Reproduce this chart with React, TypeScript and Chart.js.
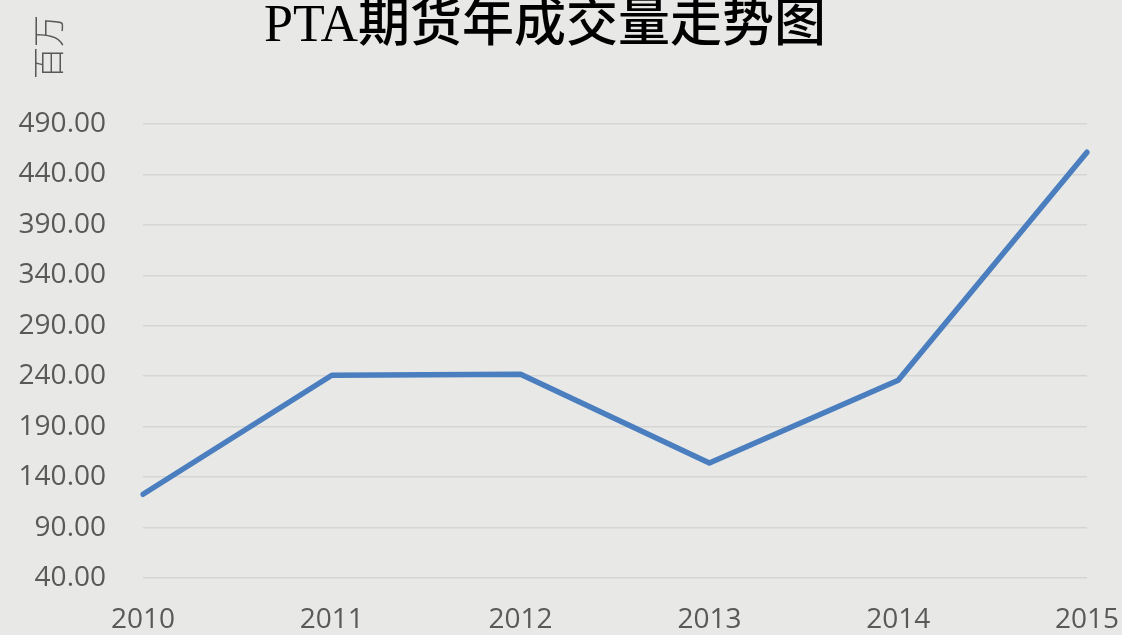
import React, { useEffect, useRef } from "react";
import { Chart, registerables } from "chart.js";

Chart.register(...registerables);

const years = ["2010", "2011", "2012", "2013", "2014", "2015"];
const volumes = [123, 241, 242, 154, 236, 462];
const yMin = 40;
const yMax = 490;
const yStep = 50;
const titleText = "PTA期货年成交量走势图";
const unitText = "百万";

const BG = "#e8e8e6";
const TEXT = "#595959";

const textPlugin = {
  id: "textPlugin",
  beforeDraw(chart: any) {
    const ctx = chart.ctx;
    ctx.save();
    ctx.fillStyle = BG;
    ctx.fillRect(0, 0, chart.width, chart.height);
    ctx.restore();
  },
  afterDraw(chart: any) {
    const ctx = chart.ctx;
    ctx.save();
    ctx.fillStyle = "#000000";
    ctx.font = "500 52px 'Liberation Serif', 'Noto Sans CJK SC'";
    ctx.textAlign = "center";
    ctx.textBaseline = "middle";
    ctx.fillText(titleText, 545, 27);
    ctx.restore();

    ctx.save();
    ctx.translate(48, 47);
    ctx.rotate(-Math.PI / 2);
    ctx.fillStyle = TEXT;
    ctx.font = "300 32px 'Noto Sans CJK SC'";
    ctx.textAlign = "center";
    ctx.textBaseline = "middle";
    ctx.fillText(unitText, 0, 0);
    ctx.restore();
  },
};

export default function App() {
  const ref = useRef<HTMLCanvasElement | null>(null);
  useEffect(() => {
    document.body.style.margin = "0";
    document.body.style.background = BG;
    const chart = new Chart(ref.current as HTMLCanvasElement, {
      type: "line",
      data: {
        labels: years,
        datasets: [
          {
            data: volumes,
            borderColor: "#4a7ebf",
            borderWidth: 5.5,
            borderCapStyle: "round",
            borderJoinStyle: "round",
            pointRadius: 0,
            tension: 0,
            fill: false,
          },
        ],
      },
      options: {
        responsive: false,
        animation: false,
        layout: { padding: { left: 0, top: 124, right: 35, bottom: 0 } },
        plugins: {
          legend: { display: false },
          title: { display: false },
          tooltip: { enabled: false },
        },
        scales: {
          x: {
            offset: false,
            grid: { display: false, drawTicks: false },
            border: { display: false },
            ticks: {
              color: TEXT,
              font: { family: "'Open Sans'", size: 28 },
              padding: 25,
              maxRotation: 0,
              autoSkip: false,
            },
            afterFit(scale: any) {
              scale.height = 57;
              scale.paddingLeft = 0;
              scale.paddingRight = 0;
            },
          },
          y: {
            min: yMin,
            max: yMax,
            grid: { color: "#d5d5d3", lineWidth: 1.5, drawTicks: false },
            border: { display: false },
            ticks: {
              stepSize: yStep,
              color: TEXT,
              font: { family: "'Open Sans'", size: 28 },
              padding: 37,
              callback: (v: any) => Number(v).toFixed(2),
            },
            afterFit(scale: any) {
              scale.width = 143;
              scale.paddingTop = 0;
              scale.paddingBottom = 0;
            },
          },
        },
      },
      plugins: [textPlugin],
    });
    return () => chart.destroy();
  }, []);
  return (
    <div style={{ position: "fixed", left: 0, top: 0, width: 1122, height: 635, background: BG }}>
      <canvas ref={ref} width={1122} height={635} style={{ width: 1122, height: 635, display: "block" }} />
    </div>
  );
}
